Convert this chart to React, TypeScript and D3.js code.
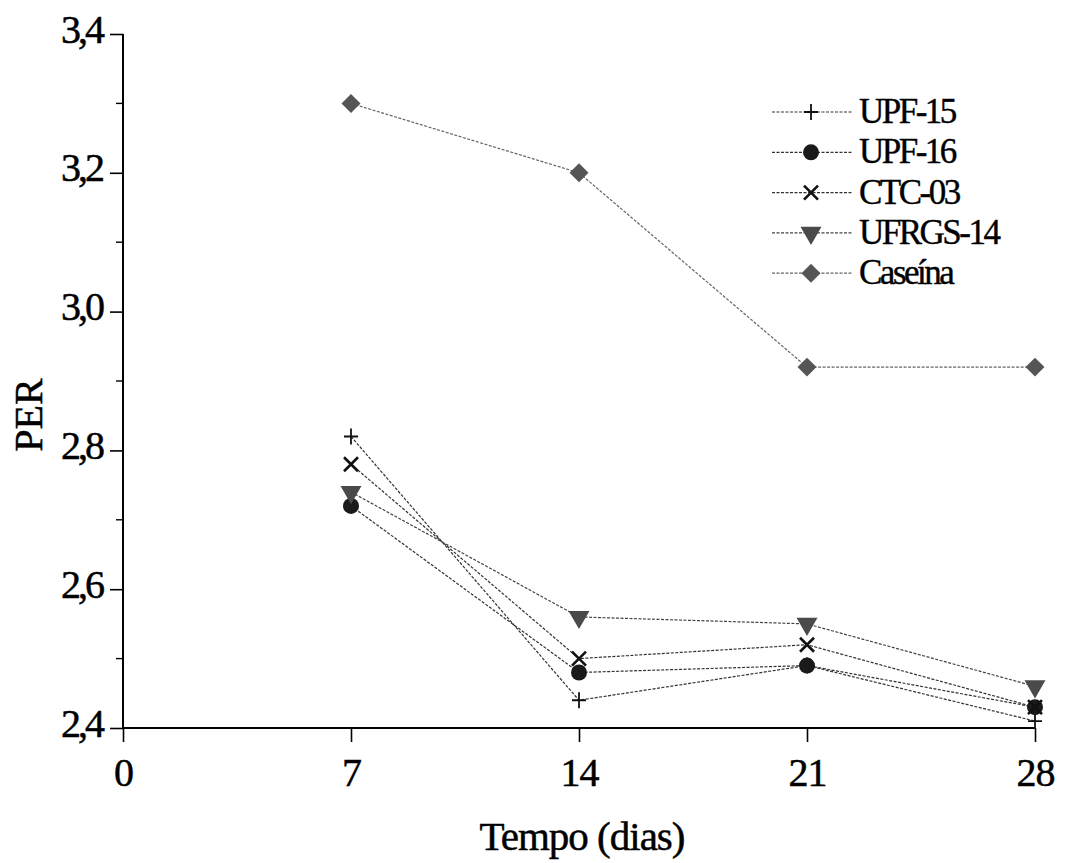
import * as d3 from 'd3';
import { useEffect, useRef } from 'react';

const days = [7, 14, 21, 28];
const upf15 = [2.82, 2.44, 2.49, 2.41];
const upf16 = [2.72, 2.48, 2.49, 2.43];
const ctc03 = [2.78, 2.50, 2.52, 2.43];
const ufrgs14 = [2.74, 2.56, 2.55, 2.46];
const caseina = [3.30, 3.20, 2.92, 2.92];

const xTicks = [0, 7, 14, 21, 28];
const yTicks = [2.4, 2.6, 2.8, 3.0, 3.2, 3.4];
const yMinor = [2.5, 2.7, 2.9, 3.1, 3.3];

const series = [
    { name: 'UPF-15', values: upf15, marker: 'plus', color: '#333' },
    { name: 'UPF-16', values: upf16, marker: 'circle', color: '#333' },
    { name: 'CTC-03', values: ctc03, marker: 'x', color: '#333' },
    { name: 'UFRGS-14', values: ufrgs14, marker: 'triangle', color: '#444' },
    { name: 'Caseína', values: caseina, marker: 'diamond', color: '#666' },
];

const FONT = "'Liberation Serif', 'Times New Roman', Times, 'DejaVu Serif', serif";

const drawMarker = (g, type) => {
    if (type === 'plus') {
        g.append('path').attr('d', 'M-7,0H7M0,-8V8')
            .attr('stroke', '#111').attr('stroke-width', 1.8).attr('fill', 'none');
    } else if (type === 'circle') {
        g.append('circle').attr('r', 8).attr('fill', '#1a1a1a');
    } else if (type === 'x') {
        g.append('path').attr('d', 'M-7,-7L7,7M-7,7L7,-7')
            .attr('stroke', '#111').attr('stroke-width', 2.6).attr('fill', 'none');
    } else if (type === 'triangle') {
        g.append('path').attr('d', d3.symbol(d3.symbolTriangle, 190)())
            .attr('transform', 'rotate(180)').attr('fill', '#4a4a4a');
    } else if (type === 'diamond') {
        g.append('path').attr('d', d3.symbol(d3.symbolSquare, 180)())
            .attr('transform', 'rotate(45)').attr('fill', '#555');
    }
};

const App = () => {
    const svgRef = useRef();
    useEffect(() => {
        const svg = d3.select(svgRef.current);
        svg.selectAll('*').remove();

        const x = d3.scaleLinear().domain([0, 28]).range([123, 1035]);
        const y = d3.scaleLinear().domain([2.4, 3.4]).range([728, 34]);

        // x axis
        const xAxis = svg.append('g').attr('transform', `translate(0,${y(2.4)})`)
            .call(d3.axisBottom(x).tickValues(xTicks).tickSize(14).tickPadding(16));
        xAxis.attr('font-family', null);
        xAxis.select('.domain').attr('d', `M${x(0)},0H${x(28)}`).attr('stroke-width', 2);
        xAxis.selectAll('.tick line').attr('stroke-width', 1.6);
        xAxis.selectAll('.tick text')
            .style('font-family', FONT).attr('font-size', 40).attr('fill', '#000')
            .attr('stroke', '#000').attr('stroke-width', 0.5).attr('letter-spacing', -1);

        // y axis
        const yAxis = svg.append('g').attr('transform', `translate(${x(0)},0)`)
            .call(d3.axisLeft(y).tickValues(yTicks).tickSize(13).tickPadding(8)
                .tickFormat(d => d3.format('.1f')(d).replace('.', ',')));
        yAxis.attr('font-family', null);
        yAxis.select('.domain').attr('d', `M0,${y(3.4)}V${y(2.4)}`).attr('stroke-width', 2);
        yAxis.selectAll('.tick line').attr('stroke-width', 1.6);
        yAxis.selectAll('.tick text')
            .style('font-family', FONT).attr('font-size', 40).attr('fill', '#000')
            .attr('stroke', '#000').attr('stroke-width', 0.5)
            .attr('letter-spacing', -3).attr('dy', '0.2em');

        svg.append('g').selectAll('line').data(yMinor).enter().append('line')
            .attr('x1', x(0) - 7).attr('x2', x(0))
            .attr('y1', d => y(d)).attr('y2', d => y(d))
            .attr('stroke', '#000').attr('stroke-width', 1.4);

        // titles
        svg.append('text').attr('x', (x(0) + x(28)) / 2 + 3).attr('y', 850)
            .attr('text-anchor', 'middle').style('font-family', FONT).attr('font-size', 41)
            .attr('stroke', '#000').attr('stroke-width', 0.5).attr('letter-spacing', -1)
            .text('Tempo (dias)');
        svg.append('text').attr('transform', `translate(42,415) rotate(-90)`)
            .attr('text-anchor', 'middle').style('font-family', FONT).attr('font-size', 40)
            .attr('stroke', '#000').attr('stroke-width', 0.5)
            .text('PER');

        // series
        const line = d3.line().x((d, i) => x(days[i])).y(d => y(d));
        series.forEach(s => {
            svg.append('path').attr('d', line(s.values))
                .attr('fill', 'none').attr('stroke', s.color)
                .attr('stroke-width', 1.2).attr('stroke-dasharray', '3 1.5');
        });
        series.forEach(s => {
            s.values.forEach((v, i) => {
                const g = svg.append('g').attr('transform', `translate(${x(days[i])},${y(v)})`);
                drawMarker(g, s.marker);
            });
        });

        // legend
        const legend = svg.append('g');
        series.forEach((s, i) => {
            const ly = 112 + i * 40.3;
            legend.append('line').attr('x1', 772).attr('x2', 852).attr('y1', ly).attr('y2', ly)
                .attr('stroke', s.color).attr('stroke-width', 1.2).attr('stroke-dasharray', '3 1.5');
            drawMarker(legend.append('g').attr('transform', `translate(811,${ly})`), s.marker);
            legend.append('text').attr('x', 859).attr('y', ly + 11)
                .style('font-family', FONT).attr('font-size', 35).attr('letter-spacing', -2.5)
                .attr('stroke', '#000').attr('stroke-width', 0.4)
                .text(s.name);
        });

        return () => {
            svg.selectAll('*').remove();
        };
    }, []);

    return (
        <svg ref={svgRef} width={1066} height={863}
            style={{ position: 'absolute', left: 0, top: 0, background: '#fff' }}></svg>
    );
};

export default App;
